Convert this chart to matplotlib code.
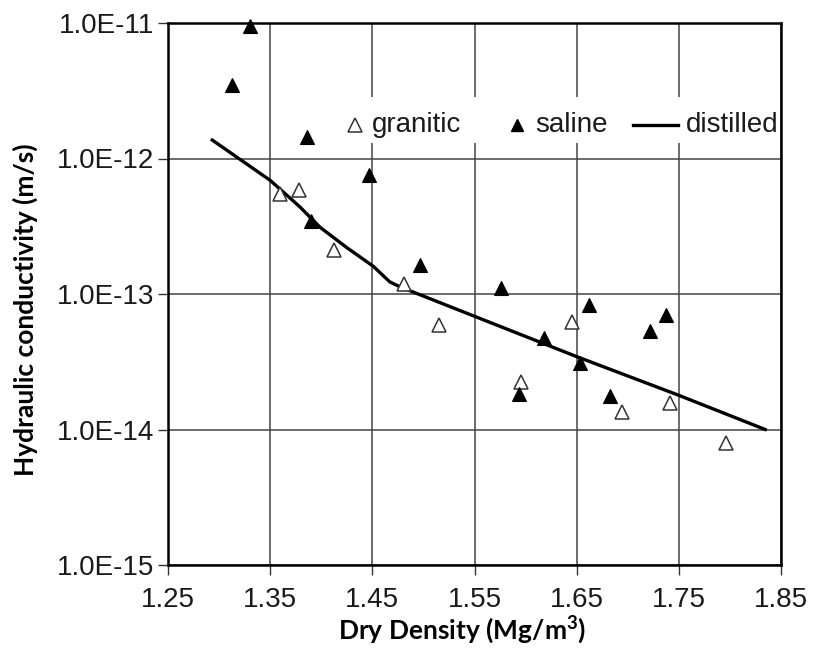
import matplotlib
matplotlib.use('Agg')
import matplotlib.pyplot as plt
from matplotlib.patches import Rectangle
import numpy as np

# --- data ---
granitic_density = [1.360, 1.378, 1.412, 1.481, 1.515, 1.596, 1.645, 1.694, 1.741, 1.796]
granitic_k = [5.5e-13, 5.9e-13, 2.1e-13, 1.19e-13, 5.9e-14, 2.24e-14, 6.2e-14, 1.35e-14, 1.56e-14, 7.9e-15]

saline_density = [1.313, 1.330, 1.386, 1.390, 1.447, 1.497, 1.576, 1.594, 1.618,
                  1.653, 1.662, 1.683, 1.722, 1.737]
saline_k = [3.5e-12, 9.5e-12, 1.45e-12, 3.48e-13, 7.55e-13, 1.64e-13, 1.10e-13, 1.82e-14,
            4.7e-14, 3.1e-14, 8.3e-14, 1.78e-14, 5.3e-14, 7.0e-14]

distilled_density = [1.292, 1.350, 1.379, 1.399, 1.425, 1.451, 1.467, 1.477,
                     1.551, 1.650, 1.749, 1.836]
distilled_k = [1.39e-12, 6.9e-13, 4.4e-13, 3.1e-13, 2.2e-13, 1.6e-13, 1.23e-13, 1.13e-13,
               6.8e-14, 3.45e-14, 1.80e-14, 9.9e-15]

x_ticks = [1.25, 1.35, 1.45, 1.55, 1.65, 1.75, 1.85]
y_ticks = [1e-15, 1e-14, 1e-13, 1e-12, 1e-11]
y_tick_labels = ['1.0E-15', '1.0E-14', '1.0E-13', '1.0E-12', '1.0E-11']

TICK_FONT = 'Liberation Sans'
LABEL_FONT = 'Lato'
TEXT_COLOR = '#1a1a1a'

fig = plt.figure(figsize=(8.14, 6.59), dpi=100)
ax = fig.add_axes([168 / 814, 1 - 565 / 659, 613 / 814, 542 / 659])

ax.set_yscale('log')
ax.set_xlim(1.25, 1.85)
ax.set_ylim(1e-15, 1e-11)

ax.set_xticks(x_ticks)
ax.set_xticklabels(['%.2f' % v for v in x_ticks], fontfamily=TICK_FONT, fontsize=20,
                   color=TEXT_COLOR)
ax.set_yticks(y_ticks)
ax.set_yticklabels(y_tick_labels, fontfamily=TICK_FONT, fontsize=20, color=TEXT_COLOR)
ax.yaxis.set_minor_locator(matplotlib.ticker.NullLocator())

ax.tick_params(axis='both', direction='out', length=7, width=1.0, color='#333333')
ax.tick_params(axis='x', pad=9)
ax.tick_params(axis='y', pad=3)

ax.grid(True, which='major', color='#444444', linewidth=1.1)
for s in ax.spines.values():
    s.set_linewidth(1.8)
    s.set_color('black')

# data
ax.plot(distilled_density, distilled_k, color='black', linewidth=2.4, zorder=3,
        solid_capstyle='butt')
ax.plot(granitic_density, granitic_k, linestyle='none', marker='^', markersize=10.5,
        markerfacecolor='white', markeredgecolor='#333333', markeredgewidth=1.1,
        zorder=4, clip_on=False)
ax.plot(saline_density, saline_k, linestyle='none', marker='^', markersize=10,
        markerfacecolor='black', markeredgecolor='black', markeredgewidth=0.8,
        zorder=4, clip_on=False)

# legend drawn by hand (white strip inside the plot)
ax.add_patch(Rectangle((0.27, 0.779), 0.726, 0.084, transform=ax.transAxes,
                       facecolor='white', edgecolor='none', zorder=2))
ax.plot([0.305], [0.812], transform=ax.transAxes, marker='^', markersize=10,
        markerfacecolor='white', markeredgecolor='#333333', markeredgewidth=1.1,
        linestyle='none', zorder=5)
ax.text(0.333, 0.799, 'granitic', transform=ax.transAxes, fontfamily=TICK_FONT,
        fontsize=20, ha='left', va='baseline', zorder=5, color=TEXT_COLOR)
ax.plot([0.569], [0.812], transform=ax.transAxes, marker='^', markersize=9,
        markerfacecolor='black', markeredgecolor='black', linestyle='none', zorder=5)
ax.text(0.599, 0.799, 'saline', transform=ax.transAxes, fontfamily=TICK_FONT,
        fontsize=20, ha='left', va='baseline', zorder=5, color=TEXT_COLOR)
ax.plot([0.7586, 0.832], [0.812, 0.812], transform=ax.transAxes, color='black',
        linewidth=2.4, zorder=5)
ax.text(0.845, 0.799, 'distilled', transform=ax.transAxes, fontfamily=TICK_FONT,
        fontsize=20, ha='left', va='baseline', zorder=5, color=TEXT_COLOR)

# axis titles
fig.text(462 / 814, 1 - 630 / 659, 'Dry Density (Mg/m$^\\mathregular{3}$)',
         fontfamily=LABEL_FONT, fontweight='bold', fontsize=19,
         ha='center', va='center')
fig.text(25 / 814, 1 - 310 / 659, 'Hydraulic conductivity (m/s)',
         fontfamily=LABEL_FONT, fontweight='bold', fontsize=19,
         ha='center', va='center', rotation=90)

fig.savefig('out.png', dpi=100)
